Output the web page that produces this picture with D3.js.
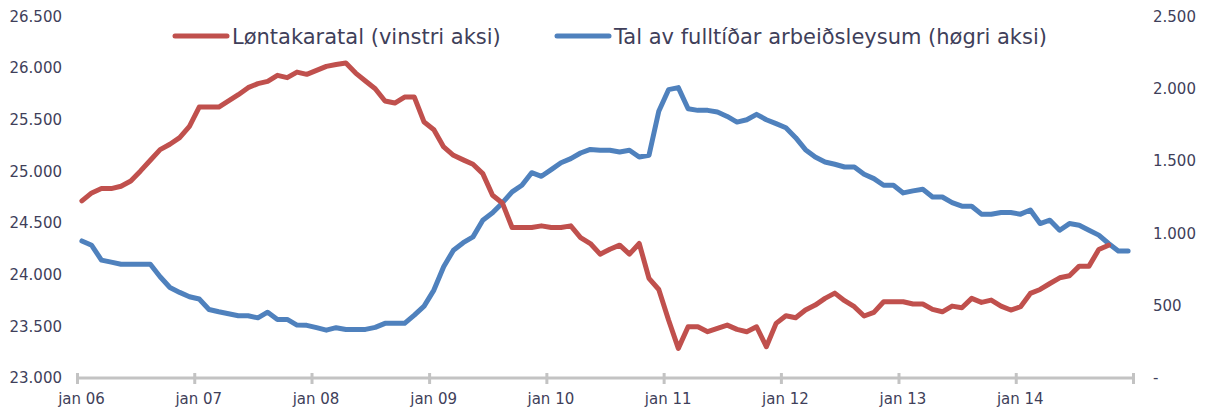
<!DOCTYPE html>
<html>
<head>
<meta charset="utf-8">
<script src="https://cdn.jsdelivr.net/npm/d3@7"></script>
<style>
  body { margin: 0; background: #fff; }
  text { font-family: "DejaVu Sans", Verdana, sans-serif; }
</style>
</head>
<body>
<script>
// month categories jan 06 .. des 14
var firstMonth = new Date(2006, 0, 1);
var afterLast = new Date(2015, 0, 1);
var months = d3.timeMonth.range(firstMonth, afterLast);

var yearTicks = ["jan 06", "jan 07", "jan 08", "jan 09", "jan 10", "jan 11", "jan 12", "jan 13", "jan 14"];
var leftTicks = [23000, 23500, 24000, 24500, 25000, 25500, 26000, 26500];
var rightTicks = [0, 500, 1000, 1500, 2000, 2500];

var seriesNames = ["Løntakaratal (vinstri aksi)", "Tal av fulltíðar arbeiðsleysum (høgri aksi)"];

// Løntakaratal, left axis (ends okt 14)
var lontakarar = [
  24715, 24792, 24834, 24834, 24857, 24908, 25005, 25108, 25211, 25263, 25327, 25437,
  25623, 25623, 25623, 25682, 25743, 25811, 25850, 25872, 25930, 25908, 25962, 25940,
  25978, 26017, 26036, 26049, 25952, 25875, 25801, 25682, 25662, 25720, 25720, 25478,
  25404, 25237, 25156, 25112, 25069, 24979, 24770, 24695, 24457, 24457, 24457, 24473,
  24457, 24457, 24473, 24360, 24302, 24199, 24247, 24286, 24199, 24302, 23965, 23857,
  23561, 23287, 23496, 23496, 23448, 23480, 23512, 23471, 23448, 23496, 23303, 23529,
  23603, 23583, 23658, 23706, 23771, 23822, 23748, 23690, 23600, 23635, 23738, 23738,
  23738, 23716, 23716, 23664, 23641, 23696, 23680, 23771, 23732, 23754, 23696, 23658,
  23690, 23819, 23857, 23915, 23970, 23990, 24083, 24083, 24244, 24286
];

// Tal av fulltíðar arbeiðsleysum, right axis
var arbeidsleys = [
  948, 918, 815, 801, 787, 787, 787, 787, 700, 626, 592, 562,
  546, 474, 458, 444, 430, 430, 416, 455, 405, 405, 366, 364,
  348, 331, 348, 336, 336, 336, 350, 378, 378, 378, 435, 497,
  608, 769, 884, 936, 976, 1091, 1142, 1211, 1287, 1333, 1420, 1395,
  1441, 1489, 1517, 1556, 1581, 1575, 1575, 1563, 1575, 1528, 1540, 1845,
  1994, 2008, 1862, 1851, 1851, 1839, 1809, 1770, 1786, 1823, 1786, 1759,
  1731, 1662, 1579, 1528, 1494, 1478, 1459, 1459, 1409, 1379, 1333, 1333,
  1280, 1294, 1305, 1252, 1252, 1213, 1188, 1188, 1133, 1133, 1144, 1144,
  1133, 1162, 1068, 1091, 1022, 1068, 1057, 1022, 988, 930, 879, 879
];

var colors = ["#C0504D", "#4F81BD"];
var textColor = "#3f3f5a";

var W = 1210, H = 419;
var plotL = 77, plotR = 1133, plotT = 16.5, plotB = 378;

var fo = d3.formatLocale({decimal: ",", thousands: ".", grouping: [3], currency: ["", ""]});
var fmt = fo.format(",");

var svg = d3.select("body").append("svg").attr("width", W).attr("height", H);

var x = d3.scaleBand().domain(months).range([plotL, plotR]).padding(0);
var xTime = d3.scaleTime().domain([firstMonth, afterLast]).range([plotL, plotR]);
var yL = d3.scaleLinear().domain([23000, 26500]).range([plotB, plotT]);
var yR = d3.scaleLinear().domain([0, 2500]).range([plotB, plotT]);

// left axis
var axL = svg.append("g").attr("transform", "translate(" + plotL + ",0)")
  .call(d3.axisLeft(yL).tickValues(leftTicks).tickFormat(fmt).tickSize(0).tickPadding(15));
axL.select(".domain").remove();
axL.selectAll("text").attr("fill", textColor).style("font-size", "15px");

// right axis
var axR = svg.append("g").attr("transform", "translate(" + plotR + ",0)")
  .call(d3.axisRight(yR).tickValues(rightTicks)
    .tickFormat(function (d) { return d === 0 ? "-" : fmt(d); }).tickSize(0).tickPadding(20));
axR.select(".domain").remove();
axR.selectAll("text").attr("fill", textColor).style("font-size", "15px");

// bottom axis
var tickDates = d3.timeYear.range(firstMonth, d3.timeYear.offset(afterLast, 1));
var axB = svg.append("g").attr("transform", "translate(0," + plotB + ")")
  .call(d3.axisBottom(xTime).tickValues(tickDates).tickSizeOuter(0)
    .tickFormat(function (d, i) { return yearTicks[i] || ""; }));
axB.select(".domain").attr("stroke", "#c3c3c3").attr("stroke-width", 3)
  .attr("d", "M" + plotL + ",0H" + plotR);
axB.selectAll(".tick line").attr("stroke", "#c3c3c3").attr("stroke-width", 3)
  .attr("y1", -5).attr("y2", 6);
axB.selectAll(".tick text").attr("fill", textColor).style("font-size", "15px")
  .attr("y", 15).attr("dx", 4);

// lines
var lineL = d3.line()
  .x(function (d, i) { return x(months[i]) + x.bandwidth() / 2; })
  .y(function (d) { return yL(d); });
var lineR = d3.line()
  .x(function (d, i) { return x(months[i]) + x.bandwidth() / 2; })
  .y(function (d) { return yR(d); });

svg.append("path").datum(arbeidsleys).attr("d", lineR)
  .attr("fill", "none").attr("stroke", colors[1]).attr("stroke-width", 5)
  .attr("stroke-linejoin", "round").attr("stroke-linecap", "round");
svg.append("path").datum(lontakarar).attr("d", lineL)
  .attr("fill", "none").attr("stroke", colors[0]).attr("stroke-width", 5)
  .attr("stroke-linejoin", "round").attr("stroke-linecap", "round");

// legend
var legendX = [175, 557];
var lg = svg.append("g");
seriesNames.forEach(function (name, i) {
  lg.append("line").attr("x1", legendX[i]).attr("x2", legendX[i] + 52)
    .attr("y1", 36).attr("y2", 36)
    .attr("stroke", colors[i]).attr("stroke-width", 5).attr("stroke-linecap", "round");
  lg.append("text").attr("x", legendX[i] + 57).attr("y", 36).attr("dy", "0.36em")
    .attr("fill", textColor).style("font-size", "21px").text(name);
});
</script>
</body>
</html>
